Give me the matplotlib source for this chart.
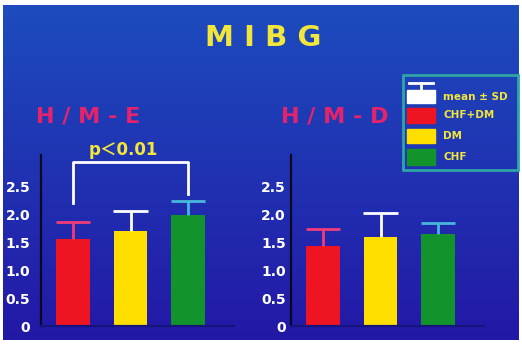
import numpy as np
import matplotlib
matplotlib.use("Agg")
import matplotlib.pyplot as plt
from matplotlib.patches import Rectangle

# data
groups = ["CHF+DM", "DM", "CHF"]
bar_colors = ["#ee1422", "#ffdf00", "#13932c"]
err_colors = ["#f03c78", "#ffffff", "#46b8dc"]
me_mean = [1.56, 1.71, 2.00]
me_sd = [0.31, 0.36, 0.25]
md_mean = [1.44, 1.60, 1.65]
md_sd = [0.30, 0.43, 0.20]
yticks = [0, 0.5, 1.0, 1.5, 2.0, 2.5]
ytick_labels = ["0", "0.5", "1.0", "1.5", "2.0", "2.5"]
bracket = (0, 2, 2.95, 2.21, 2.37)  # left x, right x, top, left foot, right foot

W, H = 522, 347
YELLOW = "#f2e63a"
PINK = "#e6226a"


def fx(x):
    return x / W


def fy(y):
    return 1 - y / H


fig = plt.figure(figsize=(W / 100, H / 100), dpi=100, facecolor="white")

# blue slide background with a slight gradient
bg = fig.add_axes([fx(3), fy(340), fx(516), (340 - 5) / H])
grad = np.linspace(0, 1, 256).reshape(-1, 1)
cmap = matplotlib.colors.LinearSegmentedColormap.from_list("slide", ["#1d4cbe", "#2318a6"])
bg.imshow(grad, aspect="auto", cmap=cmap, extent=[0, 1, 0, 1], origin="upper")
bg.set_axis_off()

fig.text(fx(263), fy(38), "M I B G", color=YELLOW, fontsize=21,
         fontweight="bold", ha="center", va="center")
fig.text(fx(88), fy(117), "H / M - E", color=PINK, fontsize=16, fontweight="bold",
         ha="center", va="center")
fig.text(fx(335), fy(117), "H / M - D", color=PINK, fontsize=16, fontweight="bold",
         ha="center", va="center")

unit = 57.5
x = np.arange(len(groups))
xlim = (-0.55, 2.8)
ylim = (0, 3.08)
ypx = 55.6
half = 0.3


def panel(x0px, means, sds, pad):
    ax = fig.add_axes([fx(x0px), fy(326), (xlim[1] - xlim[0]) * unit / W, ylim[1] * ypx / H])
    ax.set_facecolor("none")
    ax.bar(x, means, width=0.58, color=bar_colors, zorder=2)
    tops = np.array(means) + np.array(sds)
    # one-sided SD bars: stem up from the bar, cap on top
    ax.vlines(x, means, tops, colors=err_colors, lw=2, zorder=3)
    ax.hlines(tops, x - half, x + half, colors=err_colors, lw=2, zorder=3)
    ax.set_xlim(xlim)
    ax.set_ylim(ylim)
    ax.set_xticks([])
    ax.set_yticks(yticks)
    ax.set_yticklabels(ytick_labels, color="white", fontsize=10, fontweight="bold")
    ax.tick_params(axis="y", length=0, pad=pad)
    for s in ["top", "right"]:
        ax.spines[s].set_visible(False)
    ax.spines["left"].set_color("#080820")
    ax.spines["left"].set_linewidth(1.6)
    ax.spines["bottom"].set_color("#14147a")
    ax.spines["bottom"].set_linewidth(1.6)
    return ax


ax1 = panel(73 - 0.55 * unit, me_mean, me_sd, 8)
ax2 = panel(323 - 0.55 * unit, md_mean, md_sd, 4)

# significance bracket
bx0, bx1, btop, bl, br = bracket
ax1.plot([bx0, bx0, bx1, bx1], [bl, btop, btop, br], color="white", lw=2, zorder=4)
ax1.text(0.88, btop + 0.05, "p＜0.01", color=YELLOW, fontsize=12, fontweight="bold",
         family=["DejaVu Sans", "Noto Sans CJK JP"], ha="center", va="bottom")

# legend box
fig.patches.append(Rectangle((fx(403), fy(170)), fx(115), (170 - 75) / H, fill=False,
                             edgecolor="#2fa6a6", lw=2, transform=fig.transFigure))
rows = [("mean ± SD", "#ffffff", 90, 103), (groups[0], bar_colors[0], 108, 123),
        (groups[1], bar_colors[1], 129, 143), (groups[2], bar_colors[2], 149, 165)]
for label, col, y0, y1 in rows:
    fig.patches.append(Rectangle((fx(407), fy(y1)), fx(28), (y1 - y0) / H, color=col,
                                 transform=fig.transFigure))
    fig.text(fx(443), fy((y0 + y1) / 2), label, color=YELLOW, fontsize=7.5,
             fontweight="bold", ha="left", va="center")
# error bar symbol above the white patch
fig.add_artist(plt.Line2D([fx(409), fx(433)], [fy(83), fy(83)], color="white", lw=2))
fig.add_artist(plt.Line2D([fx(421), fx(421)], [fy(83), fy(90)], color="white", lw=2))

fig.savefig("out.png", dpi=100, facecolor="white")
